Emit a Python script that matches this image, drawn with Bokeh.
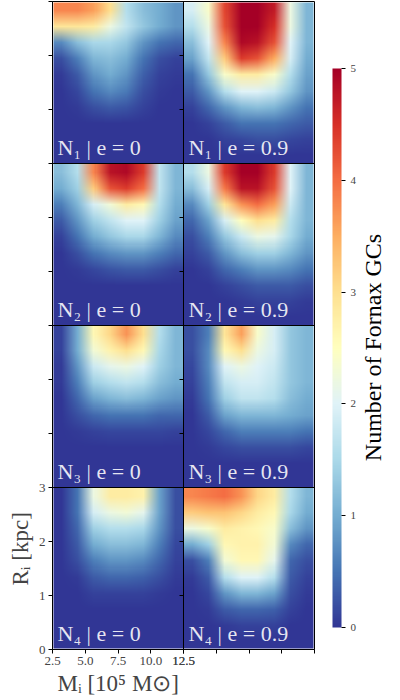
import base64
import struct
import zlib

import numpy as np
from bokeh.plotting import figure
from bokeh.layouts import row
from bokeh.models import LinearColorMapper, ColorBar, FixedTicker, Span, Label, Title
from bokeh.embed import file_html
from bokeh.resources import INLINE

# Axis ticks (shared by every panel) and colour-bar ticks
mass_ticks = [2.5, 5.0, 7.5, 10.0, 12.5]
mass_tick_labels = ["2.5", "5.0", "7.5", "10.0", "12.5"]
radius_ticks = [0, 1, 2, 3]
count_ticks = [0, 1, 2, 3, 4, 5]

# Number of surviving GCs on the (M_i, R_i) grid.
# Each row runs M_i = 2.5 -> 12.5; rows run from R_i = 3 kpc (top) down to 0.
n1_e0 = [
    [3.8, 3.8, 3.6, 3.0, 1.6, 1.2, 1.0, 0.8],
    [2.9, 2.9, 2.8, 2.2, 1.7, 1.3, 1.0, 0.8],
    [0.7, 1.2, 1.5, 1.5, 1.3, 0.8, 0.5, 0.4],
    [0.2, 0.6, 1.1, 1.2, 1.0, 0.5, 0.2, 0.1],
    [0.05, 0.3, 0.8, 1.0, 0.8, 0.35, 0.1, 0.05],
    [0.0, 0.15, 0.5, 0.7, 0.55, 0.2, 0.05, 0.0],
    [0.0, 0.05, 0.2, 0.3, 0.25, 0.1, 0.0, 0.0],
    [0.0, 0.0, 0.0, 0.0, 0.0, 0.0, 0.0, 0.0],
    [0.0, 0.0, 0.0, 0.0, 0.0, 0.0, 0.0, 0.0],
    [0.0, 0.0, 0.0, 0.0, 0.0, 0.0, 0.0, 0.0],
]
n1_e09 = [
    [1.9, 2.4, 4.3, 5.0, 5.0, 4.7, 2.2, 1.1],
    [1.6, 2.2, 4.2, 5.0, 5.0, 4.5, 2.2, 1.1],
    [1.2, 2.0, 3.8, 4.9, 4.8, 4.2, 2.0, 1.1],
    [0.9, 1.7, 3.2, 4.4, 4.2, 3.5, 1.9, 1.0],
    [0.5, 1.3, 2.4, 2.8, 2.8, 2.4, 1.6, 0.9],
    [0.3, 0.8, 1.6, 2.0, 2.0, 1.8, 1.3, 0.8],
    [0.1, 0.4, 0.8, 1.1, 1.2, 1.1, 0.8, 0.5],
    [0.0, 0.1, 0.3, 0.5, 0.5, 0.5, 0.4, 0.3],
    [0.0, 0.0, 0.1, 0.15, 0.2, 0.2, 0.15, 0.1],
    [0.0, 0.0, 0.0, 0.0, 0.0, 0.0, 0.0, 0.0],
]
n2_e0 = [
    [1.2, 1.6, 3.8, 4.8, 4.9, 4.4, 1.7, 1.1],
    [1.0, 1.4, 3.2, 4.2, 4.4, 4.0, 1.7, 1.1],
    [0.6, 1.1, 1.9, 2.3, 2.8, 2.6, 1.6, 1.0],
    [0.3, 0.8, 1.4, 1.7, 2.0, 2.0, 1.4, 0.9],
    [0.1, 0.5, 1.0, 1.3, 1.5, 1.5, 1.1, 0.7],
    [0.0, 0.2, 0.5, 0.7, 0.8, 0.8, 0.6, 0.4],
    [0.0, 0.05, 0.15, 0.25, 0.3, 0.3, 0.2, 0.1],
    [0.0, 0.0, 0.0, 0.0, 0.0, 0.0, 0.0, 0.0],
    [0.0, 0.0, 0.0, 0.0, 0.0, 0.0, 0.0, 0.0],
    [0.0, 0.0, 0.0, 0.0, 0.0, 0.0, 0.0, 0.0],
]
n2_e09 = [
    [1.6, 2.2, 4.4, 5.0, 5.0, 4.4, 2.0, 1.1],
    [1.2, 1.9, 3.9, 4.8, 4.8, 4.2, 2.0, 1.1],
    [0.7, 1.4, 2.9, 3.7, 4.0, 3.6, 1.8, 1.1],
    [0.4, 0.9, 1.9, 2.5, 3.0, 2.8, 1.6, 1.1],
    [0.2, 0.6, 1.3, 1.8, 2.2, 2.1, 1.5, 1.0],
    [0.1, 0.3, 0.8, 1.2, 1.4, 1.4, 1.1, 0.8],
    [0.0, 0.1, 0.4, 0.6, 0.8, 0.8, 0.7, 0.5],
    [0.0, 0.0, 0.1, 0.2, 0.3, 0.3, 0.3, 0.2],
    [0.0, 0.0, 0.0, 0.05, 0.1, 0.1, 0.1, 0.05],
    [0.0, 0.0, 0.0, 0.0, 0.0, 0.0, 0.0, 0.0],
]
n3_e0 = [
    [0.1, 1.0, 2.6, 3.1, 3.7, 3.0, 1.6, 1.1],
    [0.1, 1.0, 2.3, 2.7, 3.0, 2.6, 1.5, 1.1],
    [0.05, 0.8, 1.8, 2.1, 2.2, 2.0, 1.4, 1.1],
    [0.05, 0.6, 1.4, 1.6, 1.7, 1.6, 1.2, 1.0],
    [0.0, 0.4, 0.9, 1.1, 1.2, 1.1, 0.9, 0.8],
    [0.0, 0.2, 0.4, 0.5, 0.5, 0.5, 0.4, 0.4],
    [0.0, 0.05, 0.1, 0.15, 0.15, 0.15, 0.15, 0.1],
    [0.0, 0.0, 0.0, 0.0, 0.0, 0.0, 0.0, 0.0],
    [0.0, 0.0, 0.0, 0.0, 0.0, 0.0, 0.0, 0.0],
    [0.0, 0.0, 0.0, 0.0, 0.0, 0.0, 0.0, 0.0],
]
n3_e09 = [
    [0.2, 0.6, 2.9, 3.6, 2.4, 1.9, 1.3, 1.1],
    [0.2, 0.7, 2.6, 3.0, 2.2, 1.9, 1.3, 1.1],
    [0.15, 0.7, 2.0, 2.2, 2.0, 1.8, 1.3, 1.1],
    [0.1, 0.6, 1.7, 1.9, 1.9, 1.7, 1.3, 1.1],
    [0.05, 0.5, 1.4, 1.7, 1.7, 1.6, 1.2, 1.0],
    [0.0, 0.3, 0.9, 1.1, 1.1, 1.1, 1.0, 0.9],
    [0.0, 0.15, 0.4, 0.6, 0.6, 0.6, 0.6, 0.5],
    [0.0, 0.05, 0.15, 0.2, 0.2, 0.2, 0.2, 0.15],
    [0.0, 0.0, 0.0, 0.0, 0.0, 0.0, 0.0, 0.0],
    [0.0, 0.0, 0.0, 0.0, 0.0, 0.0, 0.0, 0.0],
]
n4_e0 = [
    [0.0, 0.5, 2.2, 2.8, 2.8, 2.7, 0.9, 0.2],
    [0.0, 0.5, 1.9, 2.2, 2.3, 2.1, 0.9, 0.2],
    [0.0, 0.4, 1.4, 1.6, 1.6, 1.5, 0.8, 0.2],
    [0.0, 0.3, 1.0, 1.2, 1.2, 1.1, 0.6, 0.15],
    [0.0, 0.2, 0.6, 0.8, 0.8, 0.7, 0.4, 0.1],
    [0.0, 0.05, 0.3, 0.4, 0.4, 0.35, 0.2, 0.05],
    [0.0, 0.0, 0.1, 0.1, 0.1, 0.1, 0.05, 0.0],
    [0.0, 0.0, 0.0, 0.0, 0.0, 0.0, 0.0, 0.0],
    [0.0, 0.0, 0.0, 0.0, 0.0, 0.0, 0.0, 0.0],
    [0.0, 0.0, 0.0, 0.0, 0.0, 0.0, 0.0, 0.0],
]
n4_e09 = [
    [3.8, 3.9, 4.0, 3.7, 3.1, 2.8, 1.6, 1.1],
    [3.2, 3.3, 3.3, 3.1, 2.8, 2.6, 1.5, 1.0],
    [2.2, 2.4, 2.8, 2.7, 2.6, 2.4, 1.2, 0.8],
    [1.0, 1.4, 2.6, 2.7, 2.7, 2.3, 0.7, 0.4],
    [0.2, 0.6, 2.3, 2.6, 2.6, 2.1, 0.4, 0.2],
    [0.05, 0.3, 1.6, 2.0, 2.0, 1.6, 0.3, 0.1],
    [0.0, 0.15, 0.8, 1.1, 1.1, 0.9, 0.2, 0.05],
    [0.0, 0.05, 0.3, 0.4, 0.4, 0.35, 0.1, 0.0],
    [0.0, 0.0, 0.05, 0.1, 0.1, 0.1, 0.0, 0.0],
    [0.0, 0.0, 0.0, 0.0, 0.0, 0.0, 0.0, 0.0],
]

# (model, eccentricity, grid) laid out row by row, two columns
panels = [
    ("N\u2081", "0", n1_e0), ("N\u2081", "0.9", n1_e09),
    ("N\u2082", "0", n2_e0), ("N\u2082", "0.9", n2_e09),
    ("N\u2083", "0", n3_e0), ("N\u2083", "0.9", n3_e09),
    ("N\u2084", "0", n4_e0), ("N\u2084", "0.9", n4_e09),
]

# RdYlBu reversed: blue (few GCs) -> red (many GCs)
rdylbu_r = ["#313695", "#4575b4", "#74add1", "#abd9e9", "#e0f3f8", "#ffffbf",
            "#fee090", "#fdae61", "#f46d43", "#d73027", "#a50026"]


def smooth_palette(anchors, n=256):
    rgb = np.array([[int(c[i:i + 2], 16) for i in (1, 3, 5)] for c in anchors], float)
    t = np.linspace(0, len(anchors) - 1, n)
    out = []
    for k in t:
        i = min(int(k), len(anchors) - 2)
        f = k - i
        c = rgb[i] * (1 - f) + rgb[i + 1] * f
        out.append(tuple(int(round(v)) for v in c))
    return out


palette_rgb = smooth_palette(rdylbu_r)
palette = ["#%02x%02x%02x" % c for c in palette_rgb]
c_lo, c_hi = count_ticks[0], count_ticks[-1]
mapper = LinearColorMapper(palette=palette, low=c_lo, high=c_hi)


def to_png_url(grid):
    """Colour-map a grid (top row first) and encode it as a PNG data URL."""
    vals = np.asarray(grid, dtype=float)
    n = len(palette_rgb)
    idx = np.clip(((vals - c_lo) / (c_hi - c_lo) * n).astype(int), 0, n - 1)
    h, w = vals.shape
    raw = b"".join(b"\x00" + bytes(ch for j in range(w) for ch in palette_rgb[idx[i, j]])
                   for i in range(h))

    def chunk(tag, data):
        return (struct.pack(">I", len(data)) + tag + data
                + struct.pack(">I", zlib.crc32(tag + data) & 0xFFFFFFFF))

    png = (b"\x89PNG\r\n\x1a\n"
           + chunk(b"IHDR", struct.pack(">IIBBBBB", w, h, 8, 2, 0, 0, 0))
           + chunk(b"IDAT", zlib.compress(raw))
           + chunk(b"IEND", b""))
    return "data:image/png;base64," + base64.b64encode(png).decode()


m_lo, m_hi = mass_ticks[0], mass_ticks[-1]
r_lo, r_hi = radius_ticks[0], radius_ticks[-1]
m_span, r_span = m_hi - m_lo, r_hi - r_lo
n_rows, n_cols = 4, 2

SERIF = "Liberation Serif"
FRAME_W, FRAME_H = 262, 648
BORDER_TOP, BORDER_BOTTOM = 1, 51

p = figure(
    width=315, height=700,
    x_range=(m_lo, m_lo + n_cols * m_span),
    y_range=(r_lo, r_lo + n_rows * r_span),
    output_backend="svg", toolbar_location=None,
    min_border_left=52, min_border_right=1,
    min_border_top=BORDER_TOP, min_border_bottom=BORDER_BOTTOM,
)
p.grid.visible = False
p.outline_line_color = "black"
p.outline_line_width = 1

for idx, (model, ecc, grid) in enumerate(panels):
    r, c = divmod(idx, n_cols)
    x0 = m_lo + c * m_span
    y0 = r_lo + (n_rows - 1 - r) * r_span
    p.image_url(url=[to_png_url(grid)], x=x0, y=y0 + r_span, w=m_span, h=r_span,
                anchor="top_left")
    p.add_layout(Label(x=x0, y=y0, x_offset=5, y_offset=16,
                       text=f"{model} | e = {ecc}", text_color="white", text_alpha=0.88,
                       text_font=SERIF, text_font_size="22px",
                       text_baseline="alphabetic"))

# panel borders
p.add_layout(Span(location=m_lo + m_span, dimension="height", line_color="black", line_width=1))
for k in range(1, n_rows):
    p.add_layout(Span(location=r_lo + k * r_span, dimension="width", line_color="black", line_width=1))

# axes: only the lower-left panel carries numbers
x_ticks = [m + c * m_span for c in range(n_cols) for m in mass_ticks]
x_over = {m + m_span: "" for m in mass_ticks}
x_over.update({m: lab for m, lab in zip(mass_ticks, mass_tick_labels)})
y_ticks = sorted({r + k * r_span for k in range(n_rows) for r in radius_ticks})
y_over = {float(t): "" for t in y_ticks}
y_over.update({float(r): str(r) for r in radius_ticks})

for ax, ticks, over in ((p.xaxis[0], x_ticks, x_over), (p.yaxis[0], y_ticks, y_over)):
    ax.ticker = FixedTicker(ticks=ticks)
    ax.major_label_overrides = over
    ax.major_tick_in = 0
    ax.major_tick_out = 4
    ax.minor_tick_line_color = None
    ax.axis_line_color = "black"
    ax.major_label_text_font = SERIF
    ax.major_label_text_font_size = "13px"
    ax.major_label_standoff = 3

# ticks of the right-hand column along the centre border
px_per_unit = FRAME_W / (n_cols * m_span)
inner = [t for t in y_ticks if t not in (y_ticks[0], y_ticks[-1])]
p.segment(x0=[m_lo + m_span] * len(inner), x1=[m_lo + m_span - 4 / px_per_unit] * len(inner),
          y0=inner, y1=inner, line_color="black", line_width=1)

# axis titles belonging to the lower-left panel
p.add_layout(Title(text="R\u1d62 [kpc]", align="left", offset=64, standoff=6,
                   text_font=SERIF, text_font_size="23px", text_font_style="normal"), "left")
p.add_layout(Title(text="M\u1d62 [10\u2075 M\u2299]", align="left", offset=5, standoff=2,
                   text_font=SERIF, text_font_size="23px", text_font_style="normal"), "below")

# colour bar column (its frame lines up with the panels' frame)
cf = figure(width=85, height=700, x_range=(0, 85), y_range=(0, FRAME_H),
            x_axis_location=None, y_axis_location=None,
            min_border_left=0, min_border_right=0,
            min_border_top=BORDER_TOP, min_border_bottom=BORDER_BOTTOM,
            output_backend="svg", toolbar_location=None)
cf.grid.visible = False
cf.outline_line_color = None

cb = ColorBar(color_mapper=mapper, ticker=FixedTicker(ticks=count_ticks),
              width=9, height=559, location=(17, 22), padding=0, margin=0,
              major_tick_in=0, major_tick_out=4, major_tick_line_color="black",
              major_label_text_font=SERIF, major_label_text_font_size="11px",
              label_standoff=5, bar_line_color=None,
              background_fill_alpha=0, border_line_color=None)
cf.add_layout(cb, "center")
cf.add_layout(Label(x=57, y=302, text="Number of Fornax GCs", angle=np.pi / 2,
                    text_align="center", text_baseline="middle",
                    text_font=SERIF, text_font_size="24px", text_color="black"))

layout = row(p, cf)
open("out.html", "w").write(file_html(layout, INLINE))
